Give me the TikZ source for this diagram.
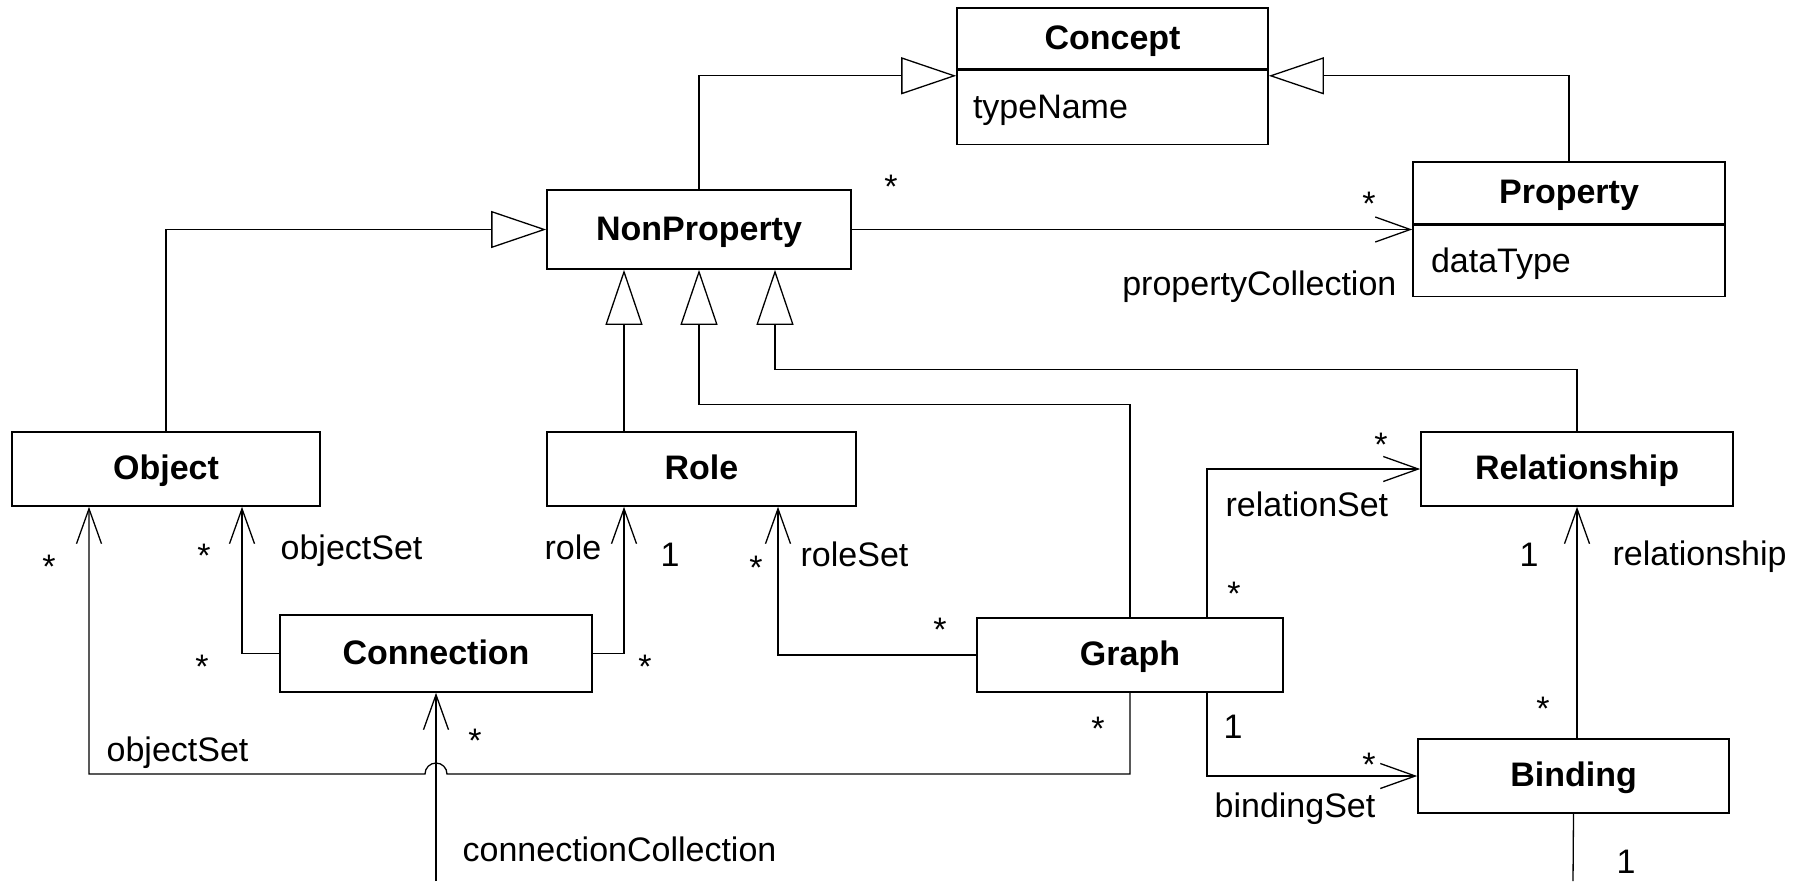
\documentclass[tikz,border=0pt]{standalone}
\usepackage{fontspec}
\setmainfont{Liberation Sans}
\usetikzlibrary{arrows.meta}
\begin{document}
\begin{tikzpicture}[x=1pt,y=-1pt,
  font=\fontsize{34}{40}\selectfont,
  line width=1.3pt,
  cls/.style={draw, line width=1.6pt, inner sep=0pt, text height=24pt, text depth=3pt, font=\fontsize{34}{40}\selectfont\bfseries},
  attr/.style={draw, line width=1.6pt, inner xsep=16pt, inner ysep=0pt, text height=24pt, text depth=2pt, align=left},
  lbl/.style={inner sep=0pt},
  inherit/.style={-{Triangle[open,length=55pt,width=37pt,fill=white]}},
  assoc/.style={-{Straight Barb[length=35pt,width=25pt]}},
]
\useasboundingbox (0,0) rectangle (1803,881);

% classes
\node[cls, minimum width=311pt, minimum height=61pt] (concept) at (1112.5,38.5) {Concept};
\node[attr, text width=279pt, minimum height=74pt, anchor=north] (conceptattr) at (concept.south) {typeName};
\node[cls, minimum width=312pt, minimum height=62pt] (property) at (1569,193) {Property};
\node[attr, inner xsep=18pt, text width=276pt, minimum height=71pt, anchor=north] (propertyattr) at (property.south) {dataType};
\node[cls, minimum width=304pt, minimum height=79pt] (nonproperty) at (699,229.5) {NonProperty};
\node[cls, minimum width=308pt, minimum height=74pt] (object) at (166,469) {Object};
\node[cls, minimum width=309pt, minimum height=74pt] (role) at (701.5,469) {Role};
\node[cls, minimum width=312pt, minimum height=74pt] (relationship) at (1577,469) {Relationship};
\node[cls, minimum width=312pt, minimum height=77pt] (connection) at (436,653.5) {Connection};
\node[cls, minimum width=306pt, minimum height=74pt] (graph) at (1130,655) {Graph};
\node[cls, minimum width=311pt, minimum height=74pt] (binding) at (1573.5,776) {Binding};

\coordinate (hop) at (436,774);
\coordinate (cc) at (436,881);
\coordinate (bb) at (1573,881);

% generalisations
\draw[inherit] (nonproperty.north) |- ([yshift=-6pt]conceptattr.north west);
\draw[inherit] (property.north) |- ([yshift=-6pt]conceptattr.north east);
\draw[inherit] (object.north) |- (nonproperty.west);
\draw[inherit] ([xshift=-77.5pt]role.north) -- ([xshift=-75pt]nonproperty.south);
\draw[inherit] (graph.north) -- ++(0,-213) -| (nonproperty.south);
\draw[inherit] (relationship.north) -- ++(0,-62) -| ([xshift=76pt]nonproperty.south);

% associations
\draw[assoc] (nonproperty.east) -- (nonproperty.east -| propertyattr.west);
\draw[assoc] (connection.west) -| ([xshift=76pt]object.south);
\draw[assoc] (connection.east) -| ([xshift=-77.5pt]role.south);
\draw[assoc] (graph.west) -| ([xshift=76.5pt]role.south);
\draw[assoc] (graph.south) |- ([xshift=11pt]hop) arc[start angle=0,end angle=180,radius=11pt] -| ([xshift=-77pt]object.south);
\draw[assoc] (cc) -- (connection.south);
\draw[assoc] ([xshift=77pt]graph.north) |- (relationship.west);
\draw[assoc] ([xshift=77pt]graph.south) |- (binding.west);
\draw[assoc] ([xshift=3.5pt]binding.north) -- (relationship.south);
\draw (binding.south) -- (bb);

% labels
\node[lbl, anchor=base] (l1) at (891,198) {*};
\node[lbl, anchor=base] (l2) at (1369,215) {*};
\node[lbl, anchor=base east] (l3) at (1397,295) {propertyCollection};
\node[lbl, anchor=base] (l5) at (49,578) {*};
\node[lbl, anchor=base] (l6) at (204,567) {*};
\node[lbl, anchor=base west] (l7) at (280,559) {objectSet};
\node[lbl, anchor=base] (l8) at (202,678) {*};
\node[lbl, anchor=base east] (l9) at (602,559) {role};
\node[lbl, anchor=base] (l10) at (670,566) {1};
\node[lbl, anchor=base] (l11) at (645,678) {*};
\node[lbl, anchor=base] (l12) at (756,579) {*};
\node[lbl, anchor=base west] (l13) at (800,566) {roleSet};
\node[lbl, anchor=base] (l14) at (940,641) {*};
\node[lbl, anchor=base west] (l15) at (106,761) {objectSet};
\node[lbl, anchor=base] (l16) at (475,752) {*};
\node[lbl, anchor=base west] (l17) at (462,861) {connectionCollection};
\node[lbl, anchor=base] (l18) at (1098,740) {*};
\node[lbl, anchor=base] (l19) at (1381,456) {*};
\node[lbl, anchor=base west] (l20) at (1225,516) {relationSet};
\node[lbl, anchor=base] (l21) at (1234,605) {*};
\node[lbl, anchor=base] (l22) at (1233,738) {1};
\node[lbl, anchor=base] (l23) at (1369,776) {*};
\node[lbl, anchor=base west] (l24) at (1214,817) {bindingSet};
\node[lbl, anchor=base] (l25) at (1529,566) {1};
\node[lbl, anchor=base west] (l26) at (1612,565) {relationship};
\node[lbl, anchor=base] (l27) at (1543,720) {*};
\node[lbl, anchor=base] (l28) at (1626,873) {1};
\end{tikzpicture}
\end{document}
